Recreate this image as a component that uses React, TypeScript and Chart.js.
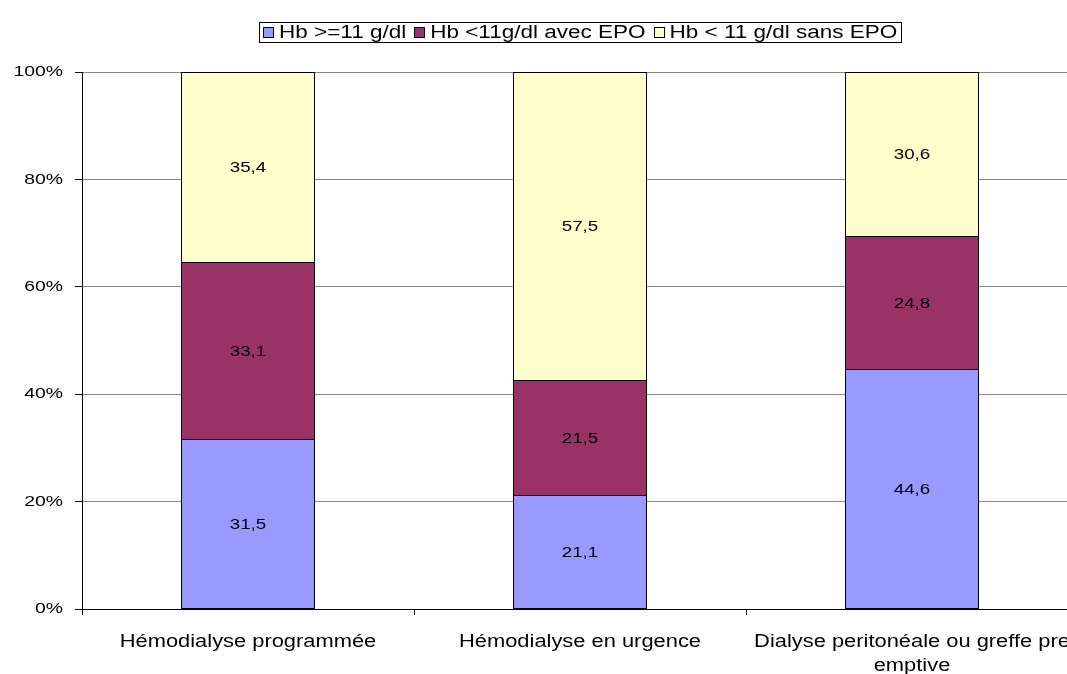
import React, { useEffect, useRef } from 'react';
import { Chart, registerables } from 'chart.js';

Chart.register(...registerables);

// ---- data ----
const categories: (string | string[])[] = [
  'Hémodialyse programmée',
  'Hémodialyse en urgence',
  ['Dialyse peritonéale ou greffe pre', 'emptive'],
];
const seriesLabels = ['Hb >=11 g/dl', 'Hb <11g/dl avec EPO', 'Hb < 11 g/dl sans EPO'];
const hbAbove11 = [31.5, 21.1, 44.6];
const hbBelow11WithEpo = [33.1, 21.5, 24.8];
const hbBelow11WithoutEpo = [35.4, 57.5, 30.6];
const seriesColors = ['#9999FF', '#993366', '#FFFFCC'];
const yTickValues = [0, 20, 40, 60, 80, 100];

// ---- look ----
const FONT = "'Liberation Sans', Arial, Helvetica, sans-serif";
const S = 1.25; // horizontal stretch of the reference's lettering
const CANVAS_W = 1090;
const CANVAS_H = 674;

const seriesValues = [hbAbove11, hbBelow11WithEpo, hbBelow11WithoutEpo];
const totals = categories.map((_, j) => seriesValues.reduce((a, s) => a + s[j], 0));
const fmt = (v: number) => v.toFixed(1).replace('.', ',');

function stretchText(ctx: any) {
  if (ctx.__stretched) return;
  ctx.__stretched = true;
  const orig = ctx.fillText.bind(ctx);
  ctx.fillText = (text: string, x: number, y: number, maxWidth?: number) => {
    ctx.save();
    ctx.translate(x, y);
    ctx.scale(S, 1);
    if (maxWidth !== undefined && maxWidth !== null) orig(text, 0, 0, maxWidth / S);
    else orig(text, 0, 0);
    ctx.restore();
  };
}

const barOutlinesAndLabels = {
  id: 'barOutlinesAndLabels',
  afterDatasetsDraw(chart: any) {
    const ctx = chart.ctx;
    ctx.save();
    // crisp black outlines around each segment
    ctx.strokeStyle = '#000';
    ctx.lineWidth = 1;
    chart.data.datasets.forEach((_ds: any, i: number) => {
      const meta = chart.getDatasetMeta(i);
      meta.data.forEach((el: any) => {
        const { x, y, base, width } = el.getProps(['x', 'y', 'base', 'width'], true);
        const l = Math.floor(x - width / 2);
        const r = Math.floor(x + width / 2);
        const t = Math.floor(Math.min(y, base));
        const b = Math.floor(Math.max(y, base));
        ctx.strokeRect(l + 0.5, t + 0.5, r - l, b - t);
      });
    });
    // value labels
    ctx.font = `15px ${FONT}`;
    ctx.fillStyle = '#000';
    ctx.textAlign = 'center';
    ctx.textBaseline = 'middle';
    chart.data.datasets.forEach((_ds: any, i: number) => {
      const meta = chart.getDatasetMeta(i);
      meta.data.forEach((el: any, j: number) => {
        const { x, y, base } = el.getProps(['x', 'y', 'base'], true);
        ctx.fillText(fmt(seriesValues[i][j]), x, (y + base) / 2 + 1);
      });
    });
    ctx.restore();
  },
};

const boxLegend = {
  id: 'boxLegend',
  afterDraw(chart: any) {
    const ctx = chart.ctx;
    ctx.save();
    ctx.font = `18px ${FONT}`;
    const box = 11, gapText = 5, gapItem = 8, padX = 4;
    const ds = chart.data.datasets;
    const widths = ds.map((d: any) => ctx.measureText(d.label).width * S);
    const total =
      padX * 2 +
      widths.reduce((a: number, w: number) => a + box + gapText + w, 0) +
      gapItem * (widths.length - 1);
    const cx = 580;
    const top = 22;
    const h = 20;
    const cy = top + h / 2;
    let x = Math.round(cx - total / 2);
    ctx.strokeStyle = '#000';
    ctx.lineWidth = 1;
    ctx.strokeRect(x + 0.5, top + 0.5, Math.round(total), h);
    x += padX;
    ctx.textAlign = 'left';
    ctx.textBaseline = 'middle';
    ds.forEach((d: any, i: number) => {
      const bx = Math.round(x);
      const by = Math.round(cy - box / 2);
      ctx.fillStyle = d.backgroundColor;
      ctx.fillRect(bx, by, box, box);
      ctx.strokeRect(bx + 0.5, by + 0.5, box - 1, box - 1);
      x += box + gapText;
      ctx.fillStyle = '#000';
      ctx.fillText(d.label, x, cy + 1);
      x += widths[i] + gapItem;
    });
    ctx.restore();
  },
};

export default function App() {
  const ref = useRef<HTMLCanvasElement | null>(null);

  useEffect(() => {
    const canvas = ref.current;
    if (!canvas) return;
    const ctx = canvas.getContext('2d');
    stretchText(ctx);
    const chart = new Chart(canvas, {
      type: 'bar',
      data: {
        labels: categories,
        datasets: seriesValues.map((vals, i) => ({
          label: seriesLabels[i],
          data: vals.map((v, j) => (v / totals[j]) * 100),
          backgroundColor: seriesColors[i],
          borderWidth: 0,
          inflateAmount: 0,
          barPercentage: 0.4,
          categoryPercentage: 1,
        })),
      },
      options: {
        responsive: false,
        animation: false,
        layout: { padding: { top: 72, right: 12, left: 0, bottom: 0 } },
        plugins: {
          legend: { display: false },
          tooltip: { enabled: false },
          title: { display: false },
        },
        scales: {
          x: {
            stacked: true,
            border: { color: '#000', width: 1 },
            grid: {
              display: true,
              drawOnChartArea: false,
              drawTicks: true,
              tickLength: 6,
              tickColor: '#000',
              offset: true,
            },
            ticks: {
              color: '#000',
              font: { family: FONT, size: 17.5, lineHeight: 1.38 },
              padding: 15,
              maxRotation: 0,
              minRotation: 0,
              autoSkip: false,
            },
            afterFit: (scale: any) => {
              scale.height = 65;
            },
          },
          y: {
            stacked: true,
            min: 0,
            max: 100,
            afterBuildTicks: (scale: any) => {
              scale.ticks = yTickValues.map((v) => ({ value: v }));
            },
            border: { color: '#000', width: 1 },
            grid: {
              color: '#868686',
              lineWidth: 1,
              tickLength: 7,
              tickColor: '#000',
            },
            ticks: {
              color: '#000',
              font: { family: FONT, size: 15.5 },
              padding: 12,
              callback: (v: any) => `${v}%`,
            },
            afterFit: (scale: any) => {
              scale.width = 82;
            },
          },
        },
      },
      plugins: [barOutlinesAndLabels, boxLegend],
    });
    return () => chart.destroy();
  }, []);

  return (
    <div
      style={{
        position: 'fixed',
        left: 0,
        top: 0,
        width: 1067,
        height: 674,
        overflow: 'hidden',
        background: '#fff',
      }}
    >
      <canvas
        ref={ref}
        width={CANVAS_W}
        height={CANVAS_H}
        style={{ width: `${CANVAS_W}px`, height: `${CANVAS_H}px`, display: 'block' }}
      />
    </div>
  );
}
